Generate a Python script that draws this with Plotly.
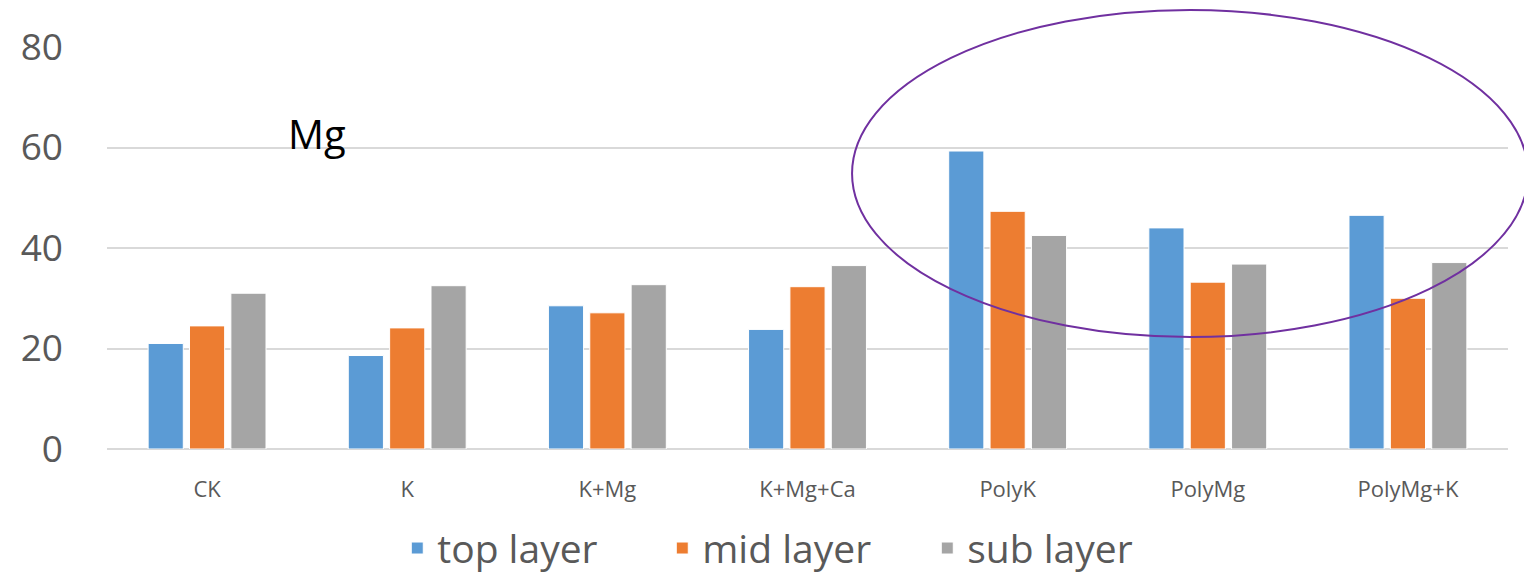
import plotly.graph_objects as go

# Mg content per treatment and soil layer
treatments = ["CK", "K", "K+Mg", "K+Mg+Ca", "PolyK", "PolyMg", "PolyMg+K"]
top_layer = [21.0, 18.6, 28.5, 23.8, 59.3, 44.0, 46.5]
mid_layer = [24.5, 24.1, 27.1, 32.3, 47.3, 33.2, 30.0]
sub_layer = [31.0, 32.5, 32.7, 36.5, 42.5, 36.8, 37.1]

series = [
    ("top layer", top_layer, "#5B9BD5"),
    ("mid layer", mid_layer, "#ED7D31"),
    ("sub layer", sub_layer, "#A5A5A5"),
]

FONT = "Open Sans"

fig = go.Figure()
for name, vals, color in series:
    fig.add_trace(go.Bar(
        name=name, x=treatments, y=vals,
        marker=dict(color=color, line=dict(color="white", width=1)),
    ))

fig.update_layout(
    width=1524, height=574,
    margin=dict(l=107, r=16, t=47, b=125),
    paper_bgcolor="white", plot_bgcolor="white",
    barmode="group", bargap=0.38, bargroupgap=0.15,
    font=dict(family=FONT, color="#595959"),
    showlegend=True,
    legend=dict(
        orientation="h", xref="container", yref="container",
        x=0.5215, xanchor="center", y=0.045, yanchor="middle",
        font=dict(size=39, color="#595959", family=FONT),
        itemwidth=30, entrywidth=220,
    ),
    xaxis=dict(
        showgrid=False, showline=False, ticks="", automargin=False,
        tickfont=dict(size=22, color="#595959"),
        ticklabelstandoff=25,
    ),
    yaxis=dict(
        range=[0, 80], dtick=20, showline=False, ticks="", automargin=False,
        gridcolor="#D9D9D9", gridwidth=1.5,
        zeroline=True, zerolinecolor="#D9D9D9", zerolinewidth=2,
        tickfont=dict(size=37, color="#595959"),
        ticklabelstandoff=43,
    ),
)

# element label inside the plot
fig.add_annotation(
    x=0.55, y=62.7, xref="x", yref="y", text="Mg", showarrow=False,
    font=dict(size=40, color="black", family=FONT),
)

# highlight around the polyhalite treatments
fig.add_shape(
    type="circle", xref="paper", yref="paper",
    x0=0.5318, x1=1.0143, y0=0.2786, y1=1.092,
    line=dict(color="#7030A0", width=2), fillcolor="rgba(0,0,0,0)",
    layer="above",
)

fig.write_html("out.html")
